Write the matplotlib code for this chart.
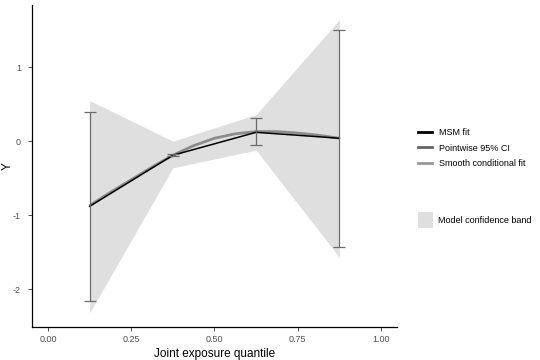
import numpy as np
import matplotlib
matplotlib.use("Agg")
import matplotlib.pyplot as plt
from matplotlib.lines import Line2D
from matplotlib.patches import Patch

plt.rcParams['font.family'] = ['Liberation Sans', 'DejaVu Sans']
plt.rcParams['axes.unicode_minus'] = False

# quantile points
q = [0.125, 0.375, 0.625, 0.875]
msm_fit = [-0.88, -0.19, 0.12, 0.04]
ci_low = [-2.16, -0.20, -0.05, -1.43]
ci_high = [0.39, -0.17, 0.31, 1.50]
band_low = [-2.32, -0.36, -0.12, -1.57]
band_high = [0.55, 0.00, 0.36, 1.64]

# smooth conditional fit
smooth_x = [0.125, 0.1875, 0.25, 0.3125, 0.375, 0.4375, 0.5, 0.5625, 0.625, 0.6875, 0.75, 0.8125, 0.875]
smooth_y = [-0.87, -0.69, -0.52, -0.35, -0.19, -0.06, 0.04, 0.10, 0.13, 0.13, 0.11, 0.08, 0.04]

xticks = [0.0, 0.25, 0.5, 0.75, 1.0]
yticks = [-2, -1, 0, 1]

fig = plt.figure(figsize=(5.4, 3.6), dpi=100)
ax = fig.add_axes([32/540, 33/360, 365/540, 322/360])

band_col = "#dfdfdf"
ax.fill_between(q, band_low, band_high, color=band_col, lw=0, zorder=1)
ax.plot(smooth_x, smooth_y, color="#8c8c8c", lw=2.0, zorder=2, solid_capstyle="butt")
ax.plot(q, msm_fit, color="black", lw=1.1, zorder=3)
ci = np.array([ci_low, ci_high])
mid = ci.mean(axis=0)
ax.errorbar(q, mid, yerr=[mid - ci[0], ci[1] - mid], fmt="none", ecolor="#6b6b6b",
            elinewidth=0.9, capsize=4, capthick=0.9, zorder=4)

ax.set_xlim(-0.048, 1.048)
ax.set_ylim(-2.51, 1.84)
ax.set_xticks(xticks)
ax.set_xticklabels([f"{t:.2f}" for t in xticks])
ax.set_yticks(yticks)
for s in ["top", "right"]:
    ax.spines[s].set_visible(False)
for s in ["left", "bottom"]:
    ax.spines[s].set_linewidth(0.9)
ax.tick_params(length=3, width=0.6, color="#333333", labelsize=6.5, labelcolor="#4d4d4d")
ax.tick_params(axis="y", pad=5)
ax.tick_params(axis="x", pad=3)
ax.set_xlabel("Joint exposure quantile", fontsize=8.5, labelpad=3)
ax.set_ylabel("Y", fontsize=8.5)
ax.yaxis.set_label_coords(-18/365, 0.5)

line_handles = [
    Line2D([], [], color="black", lw=2),
    Line2D([], [], color="#666666", lw=2),
    Line2D([], [], color="#999999", lw=2),
]
leg1 = fig.legend(line_handles, ["MSM fit", "Pointwise 95% CI", "Smooth conditional fit"],
                  loc="center left", bbox_to_anchor=(410/540, 1 - 148/360), frameon=False,
                  fontsize=6.5, handlelength=1.5, handletextpad=0.8, labelspacing=0.75)
leg2 = fig.legend([Patch(facecolor=band_col, edgecolor="none")], ["Model confidence band"],
                  loc="center left", bbox_to_anchor=(410/540, 1 - 220/360), frameon=False,
                  fontsize=6.5, handlelength=1.7, handleheight=2.3, handletextpad=0.5)

fig.savefig("out.png", dpi=100)
